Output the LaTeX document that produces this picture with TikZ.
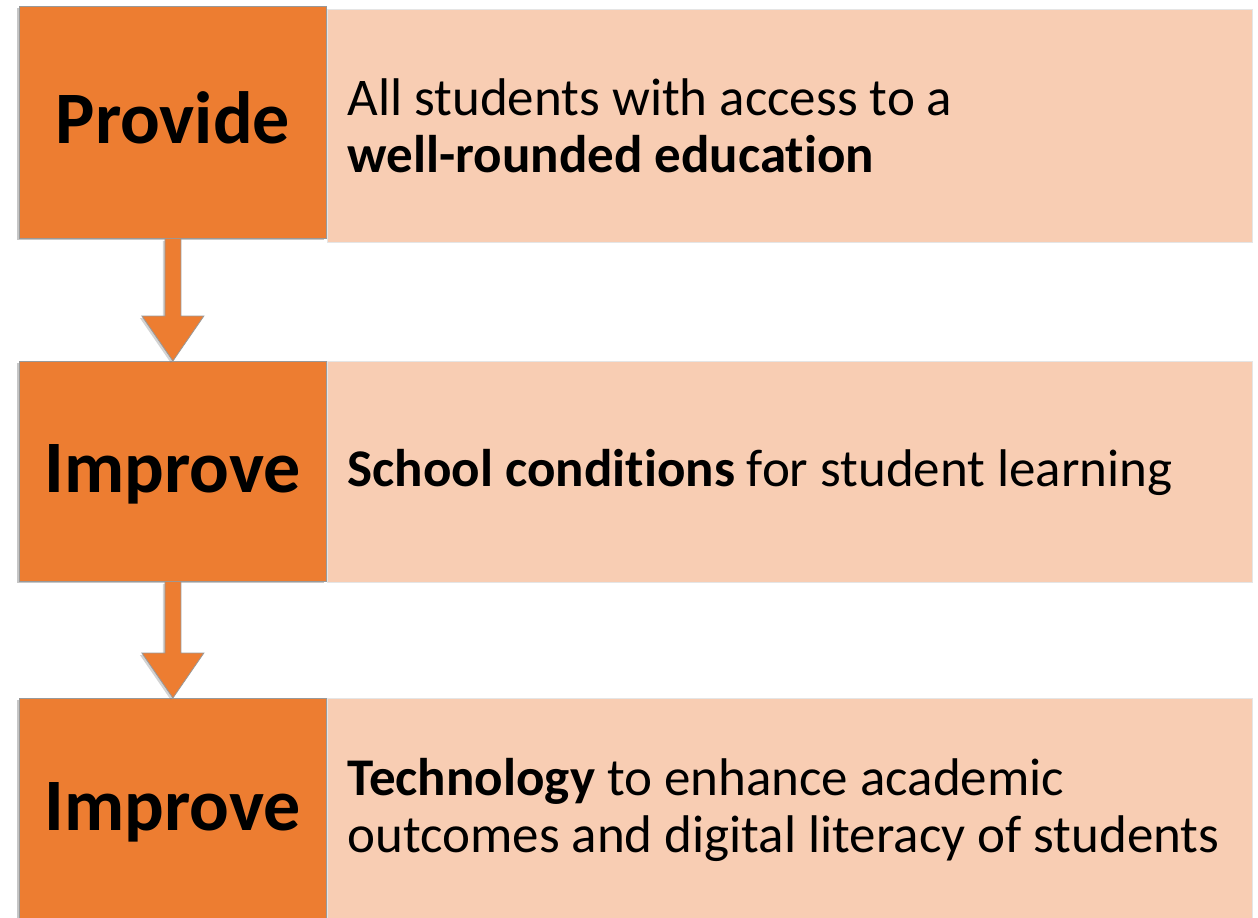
\documentclass[tikz,border=0pt]{standalone}
\usepackage{fontspec}
\setmainfont{Carlito}[Ligatures=NoCommon]
\usetikzlibrary{shadows,calc}
\definecolor{orng}{HTML}{ED7D31}
\definecolor{peach}{HTML}{F8CDB3}
\newcommand\natsp{\spaceskip=0pt\xspaceskip=0pt\hyphenpenalty=10000\relax}
\begin{document}
\begin{tikzpicture}[x=1pt,y=-1pt,
  peachbox/.style={fill=peach, draw=black!10, line width=1pt, anchor=north west,
    minimum width=925pt, inner xsep=20pt, inner ysep=0pt, align=left, text width=885pt,
    font=\fontsize{53}{57}\selectfont},
  orangebox/.style={fill=orng, draw=gray!80, line width=0.8pt, anchor=north west,
    minimum width=307pt, inner sep=0pt, text height=53pt, text depth=11pt,
    font=\fontsize{74}{80}\selectfont\bfseries,
    drop shadow={shadow xshift=-2pt, shadow yshift=-2pt, opacity=0.45}},
  arrowshape/.style={fill=orng, draw=gray!80, line width=0.8pt, line join=miter,
    drop shadow={shadow xshift=-2pt, shadow yshift=-2pt, opacity=0.35}}]
\useasboundingbox (0,0) rectangle (1258,918);
\clip (0,0) rectangle (1258,918);
% right boxes
\node[peachbox, minimum height=233pt] (p1) at (327,9)
  {\natsp All students with access to a\\\textbf{well-rounded education}};
\node[peachbox, minimum height=221pt] (p2) at (327,361)
  {\natsp\textbf{School conditions} for student learning};
\node[peachbox, minimum height=222pt] (p3) at (327,698)
  {\natsp\textbf{Technology} to enhance academic\\outcomes and digital literacy of students};
% left boxes
\node[orangebox, minimum height=232pt] (o1) at (19,6) {Provide};
\node[orangebox, minimum height=220pt] (o2) at (19,361) {Improve};
\node[orangebox, minimum height=222pt] (o3) at (19,698) {Improve};
% arrows
\draw[arrowshape] ($(o1.south)+(-8,0)$) -- ($(o2.north)+(-8,-45)$) -- ($(o2.north)+(-31,-45)$)
  -- (o2.north) -- ($(o2.north)+(31,-45)$) -- ($(o2.north)+(8,-45)$) -- ($(o1.south)+(8,0)$);
\draw[arrowshape] ($(o2.south)+(-8,0)$) -- ($(o3.north)+(-8,-45)$) -- ($(o3.north)+(-31,-45)$)
  -- (o3.north) -- ($(o3.north)+(31,-45)$) -- ($(o3.north)+(8,-45)$) -- ($(o2.south)+(8,0)$);
\end{tikzpicture}
\end{document}
